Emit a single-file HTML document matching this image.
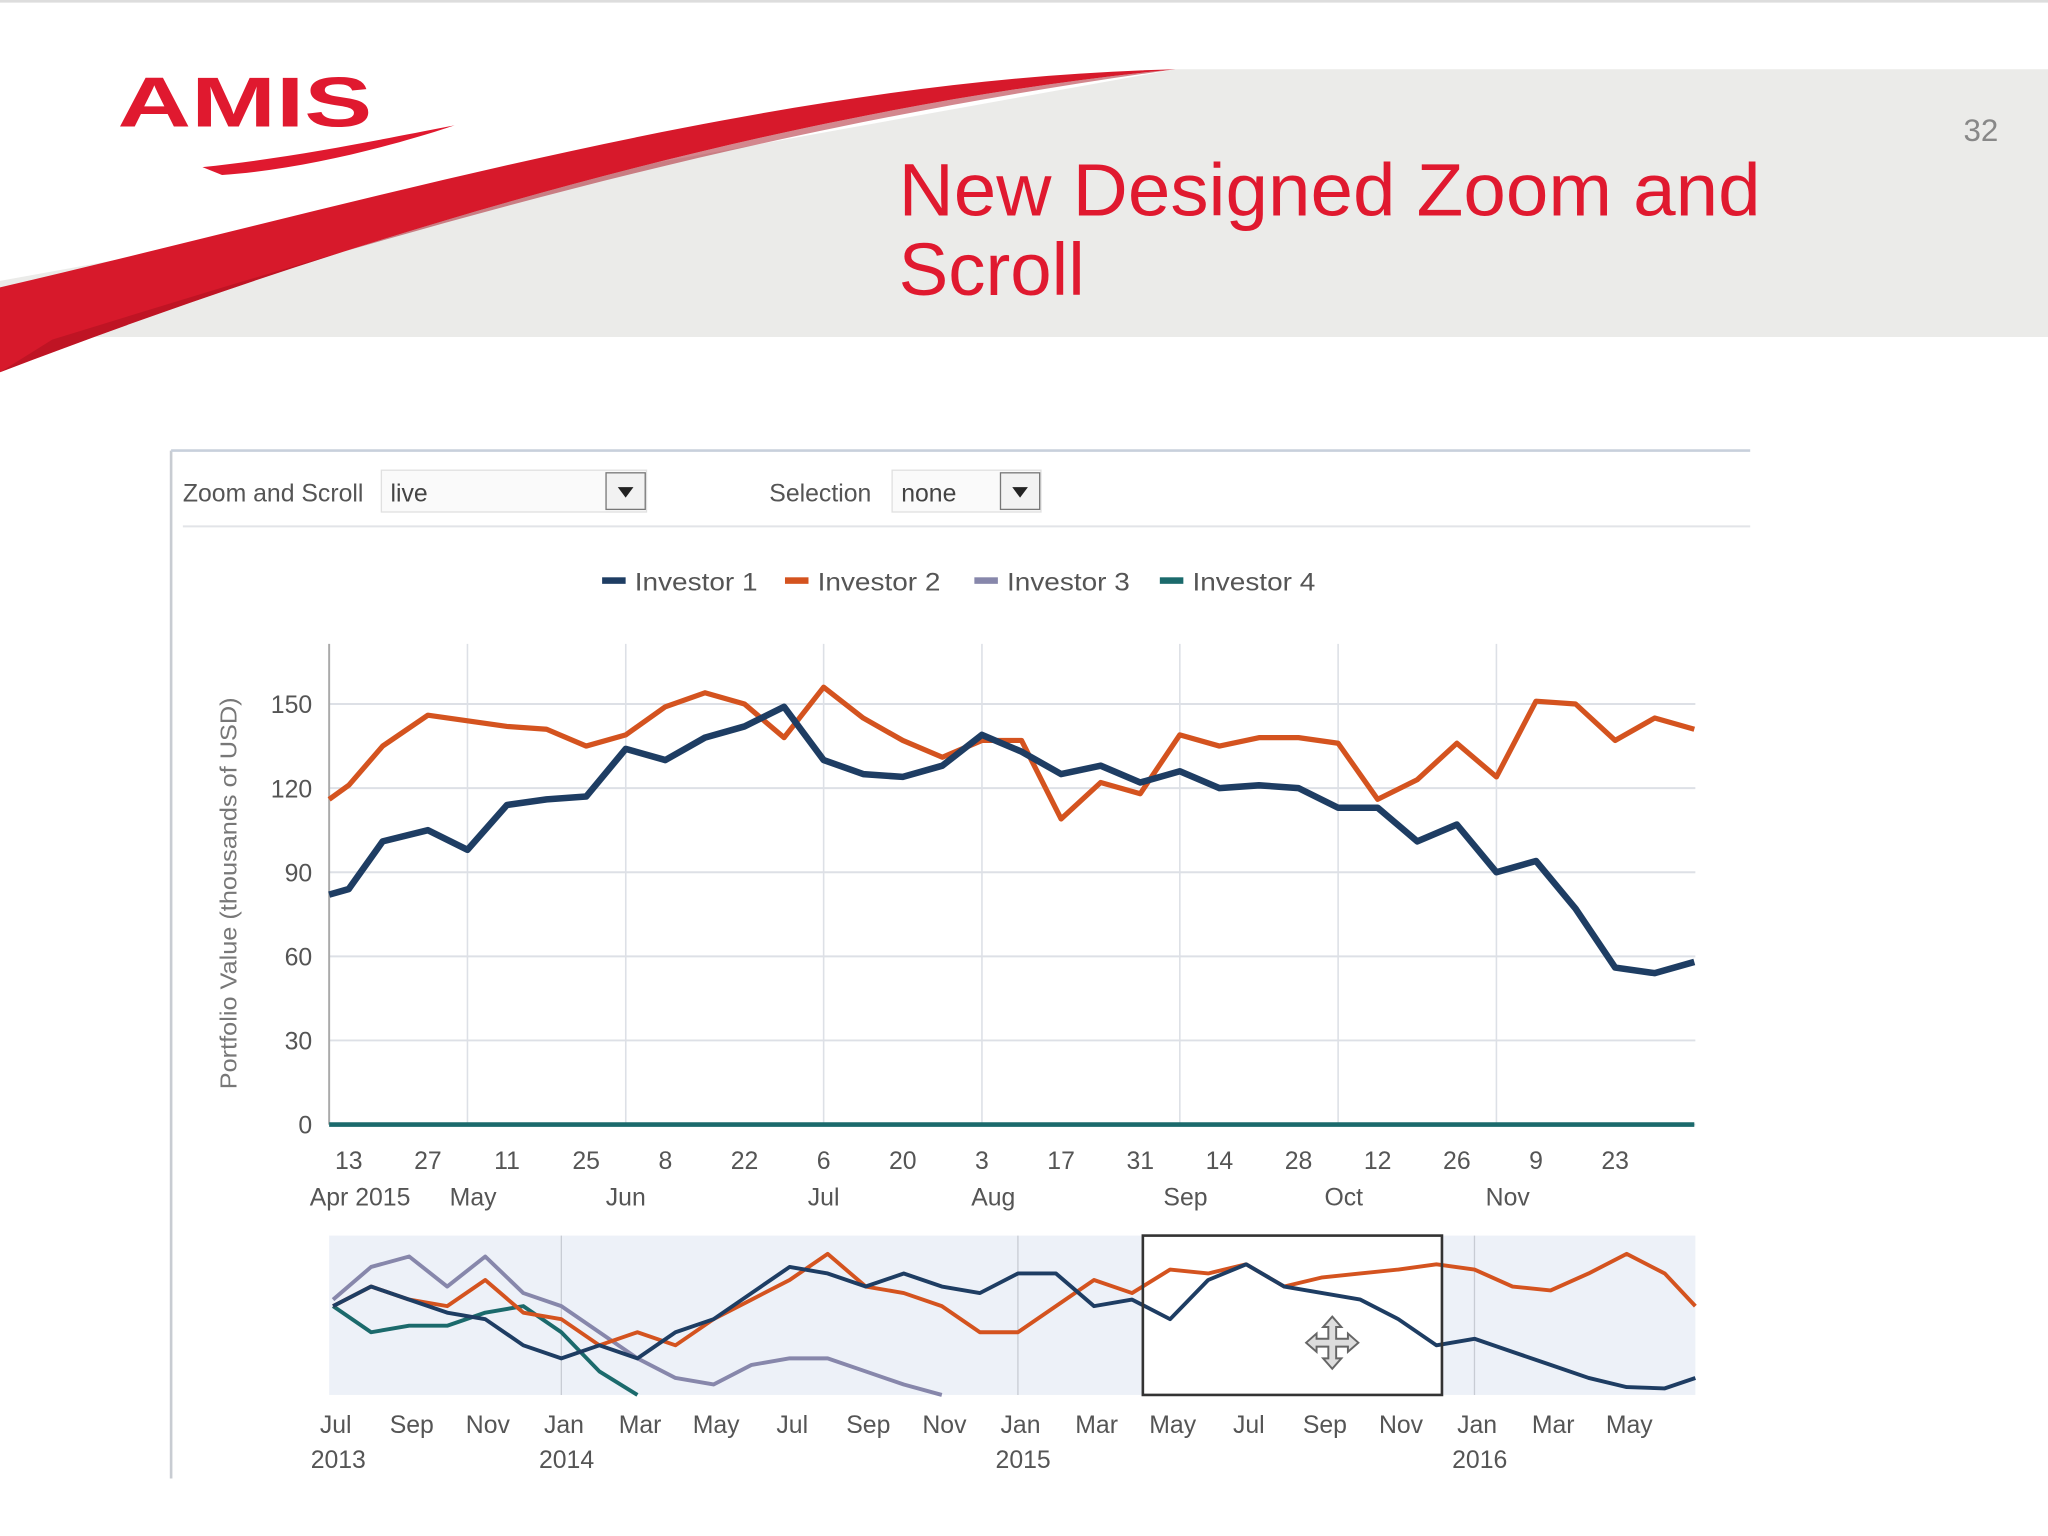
<!DOCTYPE html>
<html><head><meta charset="utf-8"><style>
html,body{margin:0;padding:0;background:#fff;}
svg{display:block;font-family:"Liberation Sans",sans-serif;}
</style></head><body>
<svg id="s" width="2048" height="1536" viewBox="0 0 1568 1176">
<rect x="0" y="0" width="1568" height="1176" fill="#fff"/>
<rect x="0" y="0" width="1568" height="2" fill="#ddd"/>
<path d="M0 215 L0 258 L1568 258 L1568 53 L900 53 Z" fill="#ebebe9"/>
<path d="M0 220 C300 150 600 60 900 53 C620 80 300 170 0 285 Z" fill="#d7192b"/>
<path d="M0 285 C300 170 620 80 900 53 C560 100 300 180 40 260 Z" fill="#a80f1e" opacity="0.5"/>
<text x="90" y="97" font-size="54" font-weight="bold" fill="#e0192f" textLength="195" lengthAdjust="spacingAndGlyphs">AMIS</text>
<path d="M155 128 C230 120 300 105 348 96 C300 112 230 130 170 134 Z" fill="#e0192f"/>
<text x="1530" y="108" font-size="24" fill="#888" text-anchor="end">32</text>
<text x="688" y="165" font-size="57" fill="#e0192f" textLength="660" lengthAdjust="spacingAndGlyphs">New Designed Zoom and</text>
<text x="688" y="226" font-size="57" fill="#e0192f">Scroll</text>

<line x1="131" y1="345" x2="131" y2="1132" stroke="#c8ccd2" stroke-width="2"/>
<line x1="131" y1="345" x2="1340" y2="345" stroke="#c8d0dc" stroke-width="2"/>
<line x1="140" y1="403" x2="1340" y2="403" stroke="#e2e4e8" stroke-width="1.5"/>
<text x="140" y="384" font-size="19" fill="#555">Zoom and Scroll</text>
<g>
<rect x="292" y="360" width="203" height="32" fill="#fafafa" stroke="#e0e0e0"/>
<text x="299" y="384" font-size="19" fill="#444">live</text>
<rect x="464" y="362" width="30" height="28" fill="#f2f2f2" stroke="#777"/>
<path d="M473 373 L485 373 L479 381 Z" fill="#222"/>
</g>
<text x="589" y="384" font-size="19" fill="#555">Selection</text>
<g>
<rect x="683" y="360" width="114" height="32" fill="#fafafa" stroke="#e0e0e0"/>
<text x="690" y="384" font-size="19" fill="#444">none</text>
<rect x="766" y="362" width="30" height="28" fill="#f2f2f2" stroke="#777"/>
<path d="M775 373 L787 373 L781 381 Z" fill="#222"/>
</g>
<g id="legend"></g>
<g id="main"></g>
<g id="ov"></g>
</svg>
<script>
// Main chart data: days since 13 Apr 2015
const mainDays=[-4,0,6,14,21,28,35,42,49,56,63,70,77,84,91,98,105,112,119,126,133,140,147,154,161,168,175,182,189,196,203,210,217,224,231,238];
const investor1=[82,84,101,105,98,114,116,117,134,130,138,142,149,130,125,124,128,139,133,125,128,122,126,120,121,120,113,113,101,107,90,94,77,56,54,58];
const investor2=[116,121,135,146,144,142,141,135,139,149,154,150,138,156,145,137,131,137,137,109,122,118,139,135,138,138,136,116,123,136,124,151,150,137,145,141];
const investor4=[0,0,0,0,0,0,0,0,0,0,0,0,0,0,0,0,0,0,0,0,0,0,0,0,0,0,0,0,0,0,0,0,0,0,0,0];
const yTicks=[0,30,60,90,120,150];
const xTickDays=[0,14,28,42,56,70,84,98,112,126,140,154,168,182,196,210,224];
const xTickLabels=["13","27","11","25","8","22","6","20","3","17","31","14","28","12","26","9","23"];
const monthLabels=["Apr 2015","May","Jun","Jul","Aug","Sep","Oct","Nov"];
const monthDays=[2,22,49,84,114,148,176,205];
const gridDays=[21,49,84,112,147,175,203];
// Overview data: months since Jul 2013
const ovInv1=[68,83,73,63,58,38,28,38,28,48,58,78,98,93,83,93,83,78,93,93,68,73,58,88,100,83,78,73,58,38,43,33,23,13,6,5,13];
const ovInv2=[68,83,73,68,88,63,58,38,48,38,58,73,88,108,83,78,68,48,48,68,88,78,96,93,100,83,90,93,96,100,96,83,80,93,108,93,68];
const ovInv3=[73,98,106,83,106,78,68,48,28,13,8,23,28,28,18,8,0];
const ovInv4=[68,48,53,53,63,68,48,18,0];
const ovTicks=["Jul","Sep","Nov","Jan","Mar","May","Jul","Sep","Nov","Jan","Mar","May","Jul","Sep","Nov","Jan","Mar","May"];
const ovYears=["2013","2014","2015","2016"];
const ovYearMonths=[0,6,18,30];

const NS="http://www.w3.org/2000/svg";
function mk(p,tag,at){const e=document.createElementNS(NS,tag);for(const k in at)e.setAttribute(k,at[k]);p.appendChild(e);return e;}
const C1="#1e3d63",C2="#d4531f",C3="#8787ab",C4="#1b6a6c";
const lg=document.getElementById('legend');
const legNames=["Investor 1","Investor 2","Investor 3","Investor 4"],legCols=[C1,C2,C3,C4],legX=[461,601,746,888];
for(let i=0;i<4;i++){const g=mk(lg,'g',{});


mk(g,'rect',{x:legX[i],y:442,width:18,height:5,fill:legCols[i]});
const t=mk(g,'text',{x:legX[i]+25,y:452,'font-size':19,fill:'#555',textLength:94,lengthAdjust:'spacingAndGlyphs'});t.textContent=legNames[i];}
const m=document.getElementById('main');
const X0=252,X1=1298,Y0=861,YS=322/150;
const xd=d=>267+d*(60.6/14);
const yv=v=>Y0-v*YS;
for(const t of yTicks){const l=mk(m,'line',{x1:X0,x2:X1,y1:yv(t),y2:yv(t),stroke:'#dde0e6','stroke-width':1.5});


const tx=mk(m,'text',{x:239,y:yv(t)+7,'font-size':19,fill:'#555','text-anchor':'end'});tx.textContent=t;

}
for(const d of gridDays){const l=mk(m,'line',{x1:xd(d),x2:xd(d),y1:493,y2:Y0,stroke:'#dde0e6','stroke-width':1.2});

}
mk(m,'line',{x1:X0,x2:X0,y1:493,y2:Y0,stroke:'#aaa','stroke-width':1.5});
xTickDays.forEach((d,i)=>{const t=mk(m,'text',{x:xd(d),y:895,'font-size':19,fill:'#555','text-anchor':'middle'});t.textContent=xTickLabels[i];

});
monthLabels.forEach((s,i)=>{const t=mk(m,'text',{x:xd(monthDays[i]),y:923,'font-size':19,fill:'#555','text-anchor':'middle'});t.textContent=s;

});
const yt=mk(m,'text',{x:0,y:0,'font-size':18,fill:'#777','text-anchor':'middle',textLength:300,lengthAdjust:'spacingAndGlyphs',transform:'translate(181,684) rotate(-90)'});yt.textContent="Portfolio Value (thousands of USD)";


function line(g,xs,vs,fx,fy,col,w,name){const p=mk(g,'polyline',{points:vs.map((v,i)=>Math.max(X0,fx(xs[i]))+','+fy(v)).join(' '),fill:'none',stroke:col,'stroke-width':w,'stroke-linejoin':'round'});

return p;}
line(m,mainDays,investor4,xd,yv,C4,3.5,'investor-4-line');
line(m,mainDays,investor2,xd,yv,C2,4,'investor-2-line');
line(m,mainDays,investor1,xd,yv,C1,5,'investor-1-line');
const o=document.getElementById('ov');
const OY0=946,OY1=1068;
const xm=k=>255+k*29.13;
const yo=v=>OY1-v;
const bg=mk(o,'rect',{x:X0,y:OY0,width:X1-X0,height:OY1-OY0,fill:'#edf1f8'});


const win=mk(o,'rect',{x:875,y:OY0,width:229,height:OY1-OY0,fill:'#fff'});


for(const k of [6,18,30]){mk(o,'line',{x1:xm(k),x2:xm(k),y1:OY0,y2:OY1,stroke:'#c8ccd4','stroke-width':1});}
const ol=(a,c,n)=>{const p=mk(o,'polyline',{points:a.map((v,i)=>Math.min(X1,xm(i))+','+yo(v)).join(' '),fill:'none',stroke:c,'stroke-width':3,'stroke-linejoin':'round'});

};
ol(ovInv3,C3,'overview-investor-3');ol(ovInv4,C4,'overview-investor-4');ol(ovInv2,C2,'overview-investor-2');ol(ovInv1,C1,'overview-investor-1');
const wb=mk(o,'rect',{x:875,y:OY0,width:229,height:OY1-OY0,fill:'none',stroke:'#333','stroke-width':2});


const cur=mk(o,'path',{d:'M1020 1008 l7 8 h-4 v9 h9 v-4 l8 7 l-8 7 v-4 h-9 v9 h4 l-7 8 l-7 -8 h4 v-9 h-9 v4 l-8 -7 l8 -7 v4 h9 v-9 h-4 z',fill:'#ddd',stroke:'#666','stroke-width':1.5});


ovTicks.forEach((s,i)=>{const t=mk(o,'text',{x:xm(i*2)+2,y:1097,'font-size':19,fill:'#555','text-anchor':'middle'});t.textContent=s;

});
ovYears.forEach((s,i)=>{const t=mk(o,'text',{x:xm(ovYearMonths[i])+4,y:1124,'font-size':19,fill:'#555','text-anchor':'middle'});t.textContent=s;

});
</script>
</body></html>
